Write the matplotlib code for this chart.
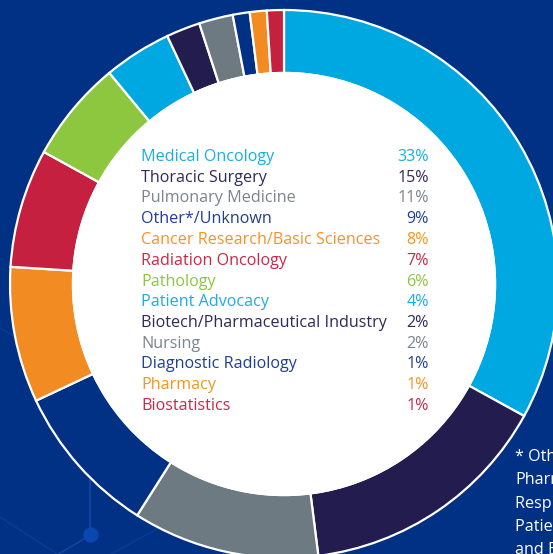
import numpy as np
import matplotlib.pyplot as plt
from matplotlib.patches import Circle

# data
categories = ["Medical Oncology", "Thoracic Surgery", "Pulmonary Medicine",
              "Other*/Unknown", "Cancer Research/Basic Sciences",
              "Radiation Oncology", "Pathology", "Patient Advocacy",
              "Biotech/Pharmaceutical Industry", "Nursing",
              "Diagnostic Radiology", "Pharmacy", "Biostatistics"]
shares = [33, 15, 11, 9, 8, 7, 6, 4, 2, 2, 1, 1, 1]
footnote = ["* Other includes", "Pharmacology,", "Respiratory Therapy,",
            "Patient Navigation", "and Education"]

bg = "#003184"
wedge_colors = ["#00a8e1", "#231d4f", "#6d7a82", "#003184", "#f28c22",
                "#c5203f", "#8dc63f", "#00a8e1", "#231d4f", "#6d7a82",
                "#003184", "#f28c22", "#c5203f"]
text_colors = ["#1aade3", "#2e2a5a", "#7a858c", "#1f3f95", "#f7941d",
               "#c8294a", "#8dc63f", "#1aade3", "#2e2a5a", "#7a858c",
               "#1f3f95", "#f7941d", "#c8294a"]

plt.rcParams['font.family'] = ['Open Sans', 'DejaVu Sans']

W, H = 553, 554
fig = plt.figure(figsize=(W / 100, H / 100), dpi=100, facecolor=bg)
ax = fig.add_axes([0, 0, 1, 1])
ax.set_facecolor(bg)

# faint network lines in the background
net = "#1147a8"
ax.plot([90, 90], [H - 470, H - 535], color=net, lw=1.3, zorder=1)
ax.plot([91, 55], [H - 535, H - 556], color=net, lw=1.0, zorder=1)
ax.plot([0, 60], [H - 517, H - 556], color=net, lw=0.8, alpha=0.6, zorder=1)
ax.plot([108, 200], [H - 556, H - 505], color=net, lw=0.8, alpha=0.6, zorder=1)
ax.plot([0, 20], [H - 328, H - 340], color=net, lw=0.8, alpha=0.6, zorder=1)
ax.add_patch(Circle((91, H - 535), 7, color="#0a47b0", zorder=1))

cx, cy = 284, H - 284
R, ring = 274, 63
ax.pie(shares, colors=wedge_colors, startangle=90, counterclock=False,
       center=(cx, cy), radius=R, frame=True,
       wedgeprops=dict(width=ring, edgecolor="white", linewidth=1.6))
ax.add_patch(Circle((cx, cy), R - ring + 0.5, color="white", zorder=3))
ax.set_xlim(0, W)
ax.set_ylim(0, H)
ax.set_aspect('equal')
ax.axis('off')

y0, step = H - 157, 20.75
for i, (lab, v) in enumerate(zip(categories, shares)):
    y = y0 - i * step
    ax.text(141, y, lab, color=text_colors[i], fontsize=11.6,
            ha="left", va="center", zorder=4)
    ax.text(429, y, f"{v}%", color=text_colors[i], fontsize=11.6,
            ha="right", va="center", zorder=4)

for i, line in enumerate(footnote):
    ax.text(515, H - 457 - i * 23.3, line, color="white", fontsize=11.6,
            ha="left", va="center", zorder=4)

fig.savefig("out.png", dpi=100, facecolor=bg)
